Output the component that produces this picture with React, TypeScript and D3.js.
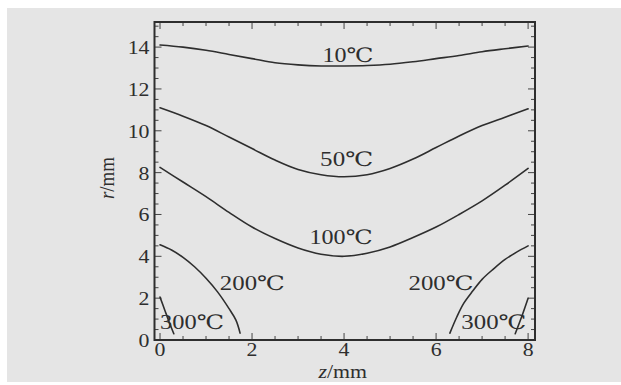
import React from "react";
import * as d3 from "d3";

const W = 621;
const H = 385;

// Data (z in mm, r in mm)
const zCommon = [0, 0.5, 1, 1.5, 2, 2.5, 3, 3.5, 4, 4.5, 5, 5.5, 6, 6.5, 7, 7.5, 8];
const r10 = [14.1, 14.0, 13.85, 13.65, 13.45, 13.25, 13.15, 13.1, 13.1, 13.12, 13.18, 13.3, 13.45, 13.6, 13.78, 13.92, 14.05];
const r50 = [11.1, 10.7, 10.25, 9.7, 9.15, 8.6, 8.15, 7.9, 7.8, 7.9, 8.2, 8.65, 9.2, 9.75, 10.25, 10.65, 11.05];
const r100 = [8.25, 7.55, 6.85, 6.1, 5.4, 4.85, 4.4, 4.1, 4.0, 4.15, 4.45, 4.9, 5.4, 6.0, 6.65, 7.4, 8.2];
const z200L = [0, 0.25, 0.5, 0.75, 1, 1.25, 1.5, 1.65, 1.74];
const r200L = [4.55, 4.3, 3.95, 3.5, 2.95, 2.3, 1.5, 0.95, 0.33];
const z300L = [0, 0.1, 0.2, 0.3];
const r300L = [2.05, 1.45, 0.85, 0.3];
const z200R = [6.3, 6.45, 6.6, 6.8, 7, 7.25, 7.5, 7.75, 8];
const r200R = [0.33, 1.1, 1.75, 2.35, 2.9, 3.4, 3.85, 4.2, 4.5];
const z300R = [7.72, 7.85, 8.0];
const r300R = [0.3, 1.05, 2.0];

const xTickValues = [0, 2, 4, 6, 8];
const yTickValues = [0, 2, 4, 6, 8, 10, 12, 14];

const curves = [
  { z: zCommon, r: r10 },
  { z: zCommon, r: r50 },
  { z: zCommon, r: r100 },
  { z: z200L, r: r200L },
  { z: z300L, r: r300L },
  { z: z200R, r: r200R },
  { z: z300R, r: r300R },
];

// Curve labels: text, anchor z, anchor r (baseline-left), target width
const labelTexts = ["10℃", "50℃", "100℃", "200℃", "200℃", "300℃", "300℃"];
const labelZ = [3.53, 3.48, 3.25, 1.3, 5.4, 0.0, 6.55];
const labelR = [13.3, 8.3, 4.6, 2.4, 2.4, 0.52, 0.52];
const labelW = [51, 53, 63, 65, 65, 64, 65];

const FONT = "'Liberation Serif', 'Times New Roman', 'DejaVu Serif', 'Noto Sans CJK SC', serif";
const INK = "#2e2e2e";

export default function App() {
  const x = d3.scaleLinear().domain([-0.12, 8.15]).range([154.5, 535]);
  const y = d3.scaleLinear().domain([0, 15.2]).range([340, 22]);
  const line = d3
    .line<[number, number]>()
    .x((d) => x(d[0]))
    .y((d) => y(d[1]))
    .curve(d3.curveCatmullRom.alpha(0.5));

  const [x0, x1] = x.range();
  const [y0, y1] = y.range();

  const minorX = d3.range(0, 8.01, 0.5);
  const minorY = d3.range(0, 15.01, 0.5);

  return (
    <svg
      width={W}
      height={H}
      style={{ position: "absolute", left: 0, top: 0, display: "block" }}
      fontFamily={FONT}
    >
      <rect x={0} y={0} width={W} height={H} fill="#ffffff" />
      <rect x={7} y={8} width={W - 7} height={374} fill="#e5e5e5" />

      {/* ticks: inward on all four sides */}
      <g stroke="#444" strokeWidth={1}>
        {minorX.map((v, i) => {
          const major = Math.abs(v % 2) < 1e-6;
          const len = major ? 7 : 4;
          return (
            <g key={"tx" + i}>
              <line x1={x(v)} x2={x(v)} y1={y0} y2={y0 - len} />
              <line x1={x(v)} x2={x(v)} y1={y1} y2={y1 + len} />
            </g>
          );
        })}
        {minorY.map((v, i) => {
          const major = Math.abs(v % 2) < 1e-6;
          const len = major ? 7 : 4;
          return (
            <g key={"ty" + i}>
              <line x1={x0} x2={x0 + len} y1={y(v)} y2={y(v)} />
              <line x1={x1} x2={x1 - len} y1={y(v)} y2={y(v)} />
            </g>
          );
        })}
      </g>

      {/* frame */}
      <rect
        x={x0}
        y={y1}
        width={x1 - x0}
        height={y0 - y1}
        fill="none"
        stroke={INK}
        strokeWidth={2}
      />

      {/* curves */}
      <g fill="none" stroke={INK} strokeWidth={1.6} strokeLinecap="round">
        {curves.map((c, i) => (
          <path key={"c" + i} d={line(c.z.map((z, j) => [z, c.r[j]]) as [number, number][]) || ""} />
        ))}
      </g>

      {/* curve labels */}
      <g fill={INK} fontSize={20}>
        {labelTexts.map((t, i) => (
          <text
            key={"l" + i}
            x={x(labelZ[i])}
            y={y(labelR[i])}
            textLength={labelW[i]}
            lengthAdjust="spacingAndGlyphs"
          >
            {t}
          </text>
        ))}
      </g>

      {/* x tick labels */}
      <g fill={INK} fontSize={19} textAnchor="middle">
        {xTickValues.map((v) => (
          <g key={"xl" + v} transform={`translate(${x(v)},${y0 + 16}) scale(1.15,1)`}>
            <text x={0} y={0}>{v}</text>
          </g>
        ))}
      </g>

      {/* y tick labels */}
      <g fill={INK} fontSize={19} textAnchor="end">
        {yTickValues.map((v) => (
          <g key={"yl" + v} transform={`translate(${x0 - 5},${y(v) + 7}) scale(1.15,1)`}>
            <text x={0} y={0}>{v}</text>
          </g>
        ))}
      </g>

      {/* axis titles */}
      <g fill={INK} fontSize={19}>
        <g transform={`translate(${(x0 + x1) / 2 - 2},${378}) scale(1.15,1)`}>
          <text textAnchor="middle">
            <tspan fontStyle="italic">z</tspan>/mm
          </text>
        </g>
        <g transform={`translate(${114},${178}) rotate(-90) scale(1,1.15)`}>
          <text textAnchor="middle">
            <tspan fontStyle="italic">r</tspan>/mm
          </text>
        </g>
      </g>
    </svg>
  );
}
